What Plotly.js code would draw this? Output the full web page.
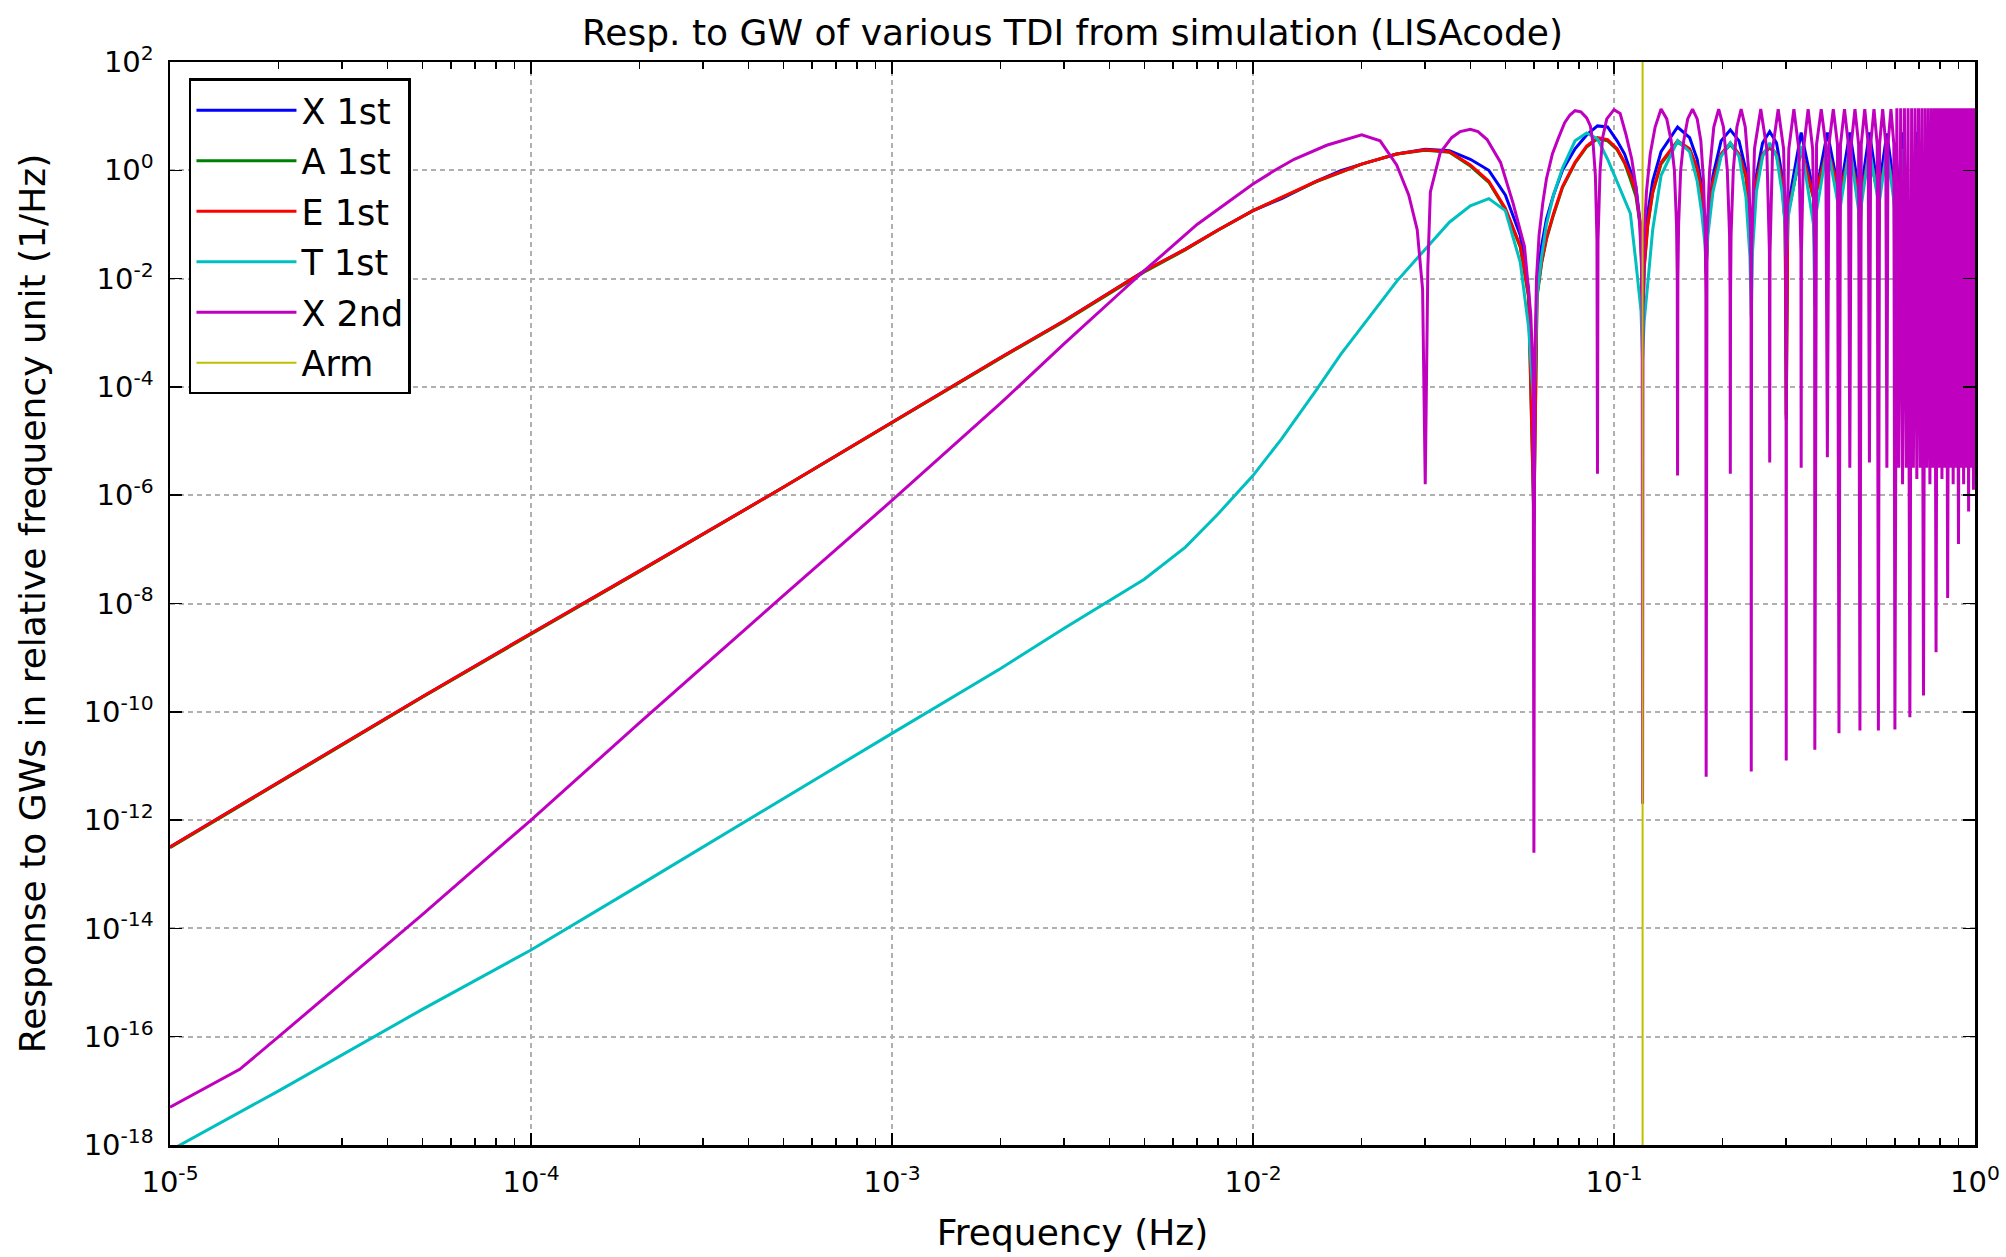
<!DOCTYPE html>
<html>
<head>
<meta charset="utf-8">
<script src="https://cdn.plot.ly/plotly-3.0.1.min.js"></script>
<style>html,body{margin:0;padding:0;background:#fff;}#chart{width:2006px;height:1257px;}</style>
</head>
<body>
<div id="chart"></div>
<script>
// ---------------- data ----------------
const seriesNames = ['X 1st', 'A 1st', 'E 1st', 'T 1st', 'X 2nd', 'Arm'];

// frequency grid (Hz) of the first-generation TDI curves
const freq1 = [
  1e-5, 2e-5, 5e-5, 1e-4, 2e-4, 5e-4, 1e-3, 2e-3, 3e-3, 5e-3, 6.5e-3, 8e-3,
  0.01, 0.012, 0.015, 0.0175, 0.02, 0.025, 0.03, 0.035, 0.04, 0.045, 0.05, 0.055, 0.058, 0.06,
  0.0612, 0.063, 0.065, 0.068, 0.072, 0.078, 0.084, 0.09, 0.096, 0.102, 0.107, 0.111, 0.115, 0.1188, 0.12,
  0.1212, 0.124, 0.128, 0.135, 0.15, 0.162, 0.17, 0.175, 0.1788, 0.18,
  0.182, 0.188, 0.198, 0.21, 0.222, 0.232, 0.238, 0.24,
  0.242, 0.248, 0.258, 0.27, 0.282, 0.292, 0.298, 0.30,
  0.303, 0.33, 0.357, 0.36,
  0.363, 0.39, 0.417, 0.42,
  0.423, 0.45, 0.477, 0.48,
  0.483, 0.51, 0.537, 0.54,
  0.543, 0.57, 0.597, 0.60,
  0.63, 0.66, 0.69, 0.72, 0.75, 0.78, 0.81, 0.84, 0.87, 0.90, 0.93, 0.96, 0.99
];

// X 1st generation (blue)
const x1st = [
  3.2e-13, 5.0e-12, 1.9e-10, 2.8e-9, 4.0e-8, 1.4e-6, 2.2e-5, 3.5e-4, 1.66e-3, 1.38e-2, 3.5e-2, 7.9e-2,
  0.18, 0.3, 0.63, 0.98, 1.3, 2.0, 2.45, 2.3, 1.6, 1.0, 0.35, 0.063, 6.3e-3, 3.2e-6,
  0.01, 0.04, 0.126, 0.35, 1.0, 2.5, 4.5, 6.6, 6.3, 3.5, 2.0, 1.0, 0.5, 0.08, 6.3e-4,
  0.025, 0.16, 0.63, 2.2, 6.3, 4.0, 1.6, 0.5, 0.1, 0.0126,
  0.126, 0.8, 3.5, 5.6, 3.5, 1.0, 0.16, 0.02,
  0.16, 0.8, 3.2, 5.2, 3.2, 0.8, 0.126, 3.2e-4,
  0.2, 5.0, 0.4, 0.032,
  0.4, 5.0, 0.5, 0.063,
  0.4, 5.0, 0.4, 0.016,
  0.4, 5.0, 0.5, 0.032,
  0.5, 4.8, 0.5, 0.063,
  5.0, 0.05, 5.0, 0.063, 5.0, 0.05, 5.0, 0.063, 5.0, 0.05, 5.0, 0.063, 5.0
];

// A 1st generation (green)
const a1st = [
  3.1e-13, 4.9e-12, 1.85e-10, 2.7e-9, 3.9e-8, 1.4e-6, 2.2e-5, 3.4e-4, 1.62e-3, 1.33e-2, 3.4e-2, 7.8e-2,
  0.18, 0.31, 0.62, 0.92, 1.3, 2.0, 2.35, 2.15, 1.2, 0.6, 0.19, 0.038, 4.5e-3, 3e-7,
  4.5e-3, 0.019, 0.053, 0.15, 0.48, 1.35, 2.7, 3.8, 3.5, 2.4, 1.35, 0.68, 0.33, 0.075, 8e-4,
  0.015, 0.095, 0.38, 1.3, 3.3, 2.4, 1.05, 0.38, 0.095, 0.016,
  0.095, 0.6, 1.9, 3.0, 1.9, 0.75, 0.15, 0.03,
  0.12, 0.6, 1.9, 2.6, 1.9, 0.6, 0.095, 3e-5,
  0.15, 2.4, 0.3, 0.045,
  0.38, 2.4, 0.48, 0.12,
  0.38, 2.1, 0.3, 0.022,
  0.3, 2.1, 0.38, 0.035,
  0.38, 1.9, 0.38, 0.09,
  1.9, 0.06, 1.9, 0.045, 1.9, 0.075, 1.9, 0.06, 1.9, 0.09, 1.9, 0.06, 1.9
];

// E 1st generation (red)
const e1st = [
  3.2e-13, 5.0e-12, 1.9e-10, 2.8e-9, 4.0e-8, 1.4e-6, 2.2e-5, 3.5e-4, 1.66e-3, 1.38e-2, 3.5e-2, 7.9e-2,
  0.18, 0.32, 0.63, 0.93, 1.3, 2.0, 2.4, 2.2, 1.26, 0.63, 0.2, 0.04, 5e-3, 4e-7,
  5e-3, 0.02, 0.056, 0.16, 0.5, 1.4, 2.8, 4.0, 3.7, 2.5, 1.4, 0.8, 0.4, 0.08, 1e-3,
  0.016, 0.1, 0.4, 1.4, 3.5, 2.5, 1.1, 0.4, 0.1, 0.018,
  0.1, 0.63, 2.0, 3.2, 2.0, 0.8, 0.16, 0.032,
  0.126, 0.63, 2.0, 2.8, 2.0, 0.63, 0.1, 2.5e-5,
  0.16, 2.5, 0.32, 0.05,
  0.4, 2.5, 0.5, 0.126,
  0.4, 2.2, 0.32, 0.025,
  0.32, 2.2, 0.4, 0.04,
  0.4, 2.0, 0.4, 0.1,
  2.0, 0.063, 2.0, 0.05, 2.0, 0.08, 2.0, 0.063, 2.0, 0.1, 2.0, 0.063, 2.0
];

// T 1st generation (cyan)
const t1st = [
  7.9e-19, 1.0e-17, 3.2e-16, 4.0e-15, 6.3e-14, 2.5e-12, 4.0e-11, 6.3e-10, 3.5e-9, 2.8e-8, 1.1e-7, 4.5e-7,
  2.3e-6, 1.1e-5, 8.9e-5, 4e-4, 1.26e-3, 8.9e-3, 0.035, 0.11, 0.22, 0.3, 0.18, 0.02, 1.26e-3, 4e-5,
  5e-3, 0.025, 0.1, 0.35, 1.1, 3.5, 4.9, 3.8, 1.6, 0.63, 0.3, 0.16, 0.02, 2.5e-3, 3.2e-4,
  1.6e-3, 8e-3, 0.08, 0.8, 3.5, 2.2, 0.63, 0.16, 0.04, 0.016,
  0.063, 0.4, 1.8, 3.2, 1.8, 0.32, 0.025, 2e-3,
  0.032, 0.4, 1.8, 3.2, 1.8, 0.4, 0.1, 0.025,
  0.126, 2.8, 0.1, 3.2e-3,
  0.16, 2.8, 0.25, 0.032,
  0.2, 2.8, 0.16, 4e-3,
  0.2, 2.5, 0.32, 0.032,
  0.25, 2.5, 0.25, 6.3e-3,
  2.5, 0.032, 2.5, 0.01, 2.5, 0.032, 2.5, 0.01, 2.5, 0.032, 2.5, 0.01, 2.5
];

// frequency grid (Hz) of the second-generation X curve
const freq2 = [
  1e-5, 1.56e-5, 2e-5, 3e-5, 5e-5, 1e-4, 2e-4, 5e-4, 1e-3, 2e-3, 3e-3, 4.3e-3, 5e-3, 7e-3, 0.0085, 0.01, 0.0115, 0.013, 0.016, 0.02,
  0.0225, 0.025, 0.027, 0.0285, 0.0295, 0.03,
  0.0305, 0.031, 0.033, 0.0355, 0.0375, 0.04, 0.042, 0.0445, 0.0485, 0.0525, 0.0565, 0.0588, 0.0597, 0.06,
  0.0603, 0.061, 0.062, 0.0635, 0.065, 0.0675, 0.07, 0.073, 0.0755, 0.078, 0.081, 0.084, 0.086, 0.0875, 0.0888, 0.0897, 0.09,
  0.0903, 0.0915, 0.093, 0.0955, 0.1, 0.104, 0.108, 0.112, 0.115, 0.1175, 0.119, 0.1197, 0.12,
  0.1203, 0.121, 0.123, 0.126, 0.13, 0.135, 0.14, 0.144, 0.147, 0.149, 0.1497, 0.15,
  0.1503, 0.151, 0.153, 0.156, 0.16, 0.165, 0.17, 0.174, 0.177, 0.179, 0.1797, 0.18,
  0.1803, 0.181, 0.184, 0.189, 0.195, 0.201, 0.206, 0.209, 0.2097, 0.21,
  0.2103, 0.211, 0.214, 0.219, 0.225, 0.231, 0.236, 0.239, 0.2397, 0.24,
  0.2405, 0.245, 0.255, 0.265, 0.2695, 0.27,
  0.2705, 0.275, 0.285, 0.295, 0.2995, 0.30,
  0.3005, 0.305, 0.315, 0.325, 0.3295, 0.33,
  0.3305, 0.335, 0.345, 0.355, 0.3595, 0.36,
  0.364, 0.375, 0.386, 0.39, 0.394, 0.405, 0.416, 0.42,
  0.424, 0.435, 0.446, 0.45, 0.454, 0.465, 0.476, 0.48,
  0.484, 0.495, 0.506, 0.51, 0.514, 0.525, 0.536, 0.54,
  0.544, 0.555, 0.566, 0.57, 0.574, 0.585, 0.596, 0.60,
  0.6075, 0.615, 0.6225, 0.63, 0.6375, 0.645, 0.6525, 0.66,
  0.6675, 0.675, 0.6825, 0.69, 0.6975, 0.705, 0.7125, 0.72,
  0.7275, 0.735, 0.7425, 0.75, 0.7575, 0.765, 0.7725, 0.78,
  0.7875, 0.795, 0.8025, 0.81, 0.8175, 0.825, 0.8325, 0.84,
  0.8475, 0.855, 0.8625, 0.87, 0.8775, 0.885, 0.8925, 0.90,
  0.9075, 0.915, 0.9225, 0.93, 0.9375, 0.945, 0.9525, 0.96,
  0.9675, 0.975, 0.9825, 0.99, 0.9975
];

// X 2nd generation (magenta)
const x2nd = [
  5.0e-18, 2.5e-17, 1e-16, 1e-15, 1.8e-14, 1e-12, 6.3e-11, 1.4e-8, 8e-7, 5e-5, 6.3e-4, 5.6e-3, 0.014, 0.1, 0.26, 0.56, 1.0, 1.6, 2.9, 4.5,
  3.5, 1.26, 0.35, 0.08, 6.3e-3, 1.6e-6,
  0.016, 0.4, 2.1, 4.0, 5.2, 5.7, 5.2, 3.7, 1.4, 0.25, 0.039, 2.2e-3, 1.6e-4, 2.5e-13,
  2.5e-4, 0.01, 0.063, 0.25, 0.7, 2.0, 3.8, 7.6, 10.5, 12.6, 12.0, 9.3, 6.6, 3.2, 0.8, 0.05, 2.5e-6,
  0.05, 1.0, 4.0, 8.9, 13.2, 11.2, 4.5, 1.6, 0.5, 0.126, 0.025, 2.5e-3, 2e-12,
  3.2e-3, 0.05, 0.4, 2.0, 6.3, 13.5, 8.9, 3.5, 1.0, 0.1, 0.01, 2.3e-6,
  0.01, 0.1, 1.0, 3.5, 8.9, 13.5, 8.9, 3.5, 0.63, 0.063, 5e-3, 6.3e-12,
  5e-3, 0.063, 1.0, 6.3, 13.5, 6.3, 1.0, 0.063, 5e-3, 2.5e-6,
  5e-3, 0.063, 1.0, 6.3, 13.5, 6.3, 1.0, 0.063, 5e-3, 7.9e-12,
  0.03, 2.5, 13.5, 2.5, 0.03, 4e-6,
  0.03, 2.5, 13.5, 2.5, 0.03, 1.26e-11,
  0.03, 2.5, 13.5, 2.5, 0.03, 3.2e-6,
  0.03, 2.5, 13.5, 2.5, 0.03, 2e-11,
  3.0, 13.5, 3.0, 5e-6, 3.0, 13.5, 3.0, 4e-11,
  3.0, 13.5, 3.0, 3.2e-6, 3.0, 13.5, 3.0, 4.5e-11,
  3.0, 13.5, 3.0, 4e-6, 3.0, 13.5, 3.0, 4.5e-11,
  3.0, 13.5, 3.0, 3.2e-6, 3.0, 13.5, 3.0, 4.7e-11,
  14, 3.2e-6, 14, 1.6e-6, 14, 3.2e-6, 14, 7.9e-11,
  14, 3.2e-6, 14, 2e-6, 14, 3.2e-6, 14, 2e-10,
  14, 3.2e-6, 14, 1.6e-6, 14, 3.2e-6, 14, 1.26e-9,
  14, 3.2e-6, 14, 2e-6, 14, 3.2e-6, 14, 1.26e-8,
  14, 3.2e-6, 14, 1.6e-6, 14, 3.2e-6, 14, 1.26e-7,
  14, 3.2e-6, 14, 1.6e-6, 14, 3.2e-6, 14, 5e-7,
  14, 3.2e-6, 14, 1.26e-6, 14
];

// arm-length frequency marker (c / L)
const armFreq = [0.12, 0.12];
const armResp = [1e-20, 1e3];

// tick labels
const xTickVals = [1e-5, 1e-4, 1e-3, 1e-2, 1e-1, 1];
const xTickText = ['10<sup>-5</sup>', '10<sup>-4</sup>', '10<sup>-3</sup>', '10<sup>-2</sup>', '10<sup>-1</sup>', '10<sup>0</sup>'];
const yTickVals = [1e-18, 1e-16, 1e-14, 1e-12, 1e-10, 1e-8, 1e-6, 1e-4, 1e-2, 1, 1e2];
const yTickText = ['10<sup>-18</sup>', '10<sup>-16</sup>', '10<sup>-14</sup>', '10<sup>-12</sup>', '10<sup>-10</sup>',
                   '10<sup>-8</sup>', '10<sup>-6</sup>', '10<sup>-4</sup>', '10<sup>-2</sup>', '10<sup>0</sup>', '10<sup>2</sup>'];

// ---------------- drawing ----------------
const colors = ['#0000ff', '#008000', '#ff0000', '#00bfbf', '#bf00bf', '#bfbf00'];
const FONT = 'DejaVu Sans, Liberation Sans, sans-serif';

function line(x, y, i, w) {
  return {x: x, y: y, name: seriesNames[i], legendgroup: 'g' + i, type: 'scatter', mode: 'lines',
          line: {color: colors[i], width: w}, hoverinfo: 'skip'};
}

const traces = [
  line(freq1, x1st, 0, 3),
  line(freq1, a1st, 1, 3),
  line(freq1, e1st, 2, 3),
  line(freq1, t1st, 3, 3),
  line(freq2, x2nd, 4, 3),
  line(armFreq, armResp, 5, 2)
];

const axisCommon = {
  type: 'log',
  showline: true, linecolor: '#000', linewidth: 2.5, mirror: 'ticks',
  ticks: 'inside', ticklen: 12, tickwidth: 1.5, tickcolor: '#000',
  showgrid: true, gridcolor: '#b0b0b0', gridwidth: 2, griddash: '5px,4px',
  zeroline: false,
  tickfont: {family: FONT, size: 29, color: '#000'},
  tickmode: 'array'
};

const layout = {
  width: 2006, height: 1257,
  margin: {l: 170, r: 31, t: 62, b: 112, autoexpand: false},
  paper_bgcolor: '#fff', plot_bgcolor: '#fff',
  font: {family: FONT, color: '#000'},
  showlegend: true,
  title: {text: 'Resp. to GW of various TDI from simulation (LISAcode)',
          font: {family: FONT, size: 36, color: '#000'},
          x: 0.5, xref: 'paper', xanchor: 'center', y: 1 - 32 / 1257, yref: 'container', yanchor: 'middle'},
  xaxis: Object.assign({}, axisCommon, {
    range: [-5, 0], tickvals: xTickVals, ticktext: xTickText,
    ticklabelstandoff: 10,
    minor: {dtick: 'D1', ticks: 'inside', ticklen: 7, tickwidth: 1.5, tickcolor: '#000', showgrid: false},
    title: {text: 'Frequency (Hz)', font: {family: FONT, size: 36, color: '#000'}, standoff: 22}
  }),
  yaxis: Object.assign({}, axisCommon, {
    range: [-18, 2], tickvals: yTickVals, ticktext: yTickText,
    ticklabelstandoff: 8,
    title: {text: 'Response to GWs in relative frequency unit (1/Hz)', font: {family: FONT, size: 36, color: '#000'}, standoff: 27}
  }),
  legend: {
    x: 0.0105, y: 0.9848, xanchor: 'left', yanchor: 'top',
    bgcolor: '#fff', bordercolor: '#000', borderwidth: 2.5,
    font: {family: FONT, size: 35, color: '#000'},
    itemwidth: 100, tracegroupgap: 2
  }
};

Plotly.newPlot('chart', traces, layout, {displayModeBar: false, staticPlot: true});
</script>
</body>
</html>
